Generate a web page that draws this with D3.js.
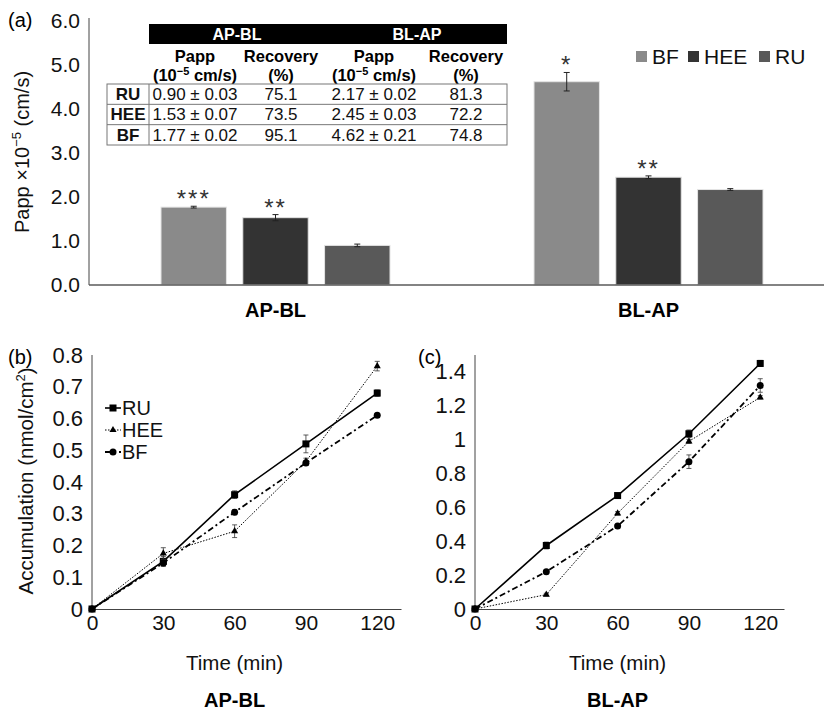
<!DOCTYPE html>
<html>
<head>
<meta charset="utf-8">
<script src="https://cdn.jsdelivr.net/npm/d3@7"></script>
<style>
  body { margin: 0; background: #fff; }
  svg { font-family: "Liberation Sans", Arial, sans-serif; }
</style>
</head>
<body>
<div id="chart"></div>
<script>
// Panel (a) data: Papp bars
const directions = ["AP-BL", "BL-AP"];
const groups = ["BF", "HEE", "RU"];
const pappMean = { "AP-BL": [1.77, 1.53, 0.90], "BL-AP": [4.62, 2.45, 2.17] };
const pappErr  = { "AP-BL": [0.02, 0.07, 0.03], "BL-AP": [0.21, 0.03, 0.02] };
const pappStars = { "AP-BL": ["***", "**", ""], "BL-AP": ["*", "**", ""] };
const barColors = ["#8a8a8a", "#333333", "#595959"];
const pappTicks = [0, 1, 2, 3, 4, 5, 6];

// Inset table
const tableRows = ["RU", "HEE", "BF"];
const tableApBlPapp = ["0.90 ± 0.03", "1.53 ± 0.07", "1.77 ± 0.02"];
const tableApBlRec  = ["75.1", "73.5", "95.1"];
const tableBlApPapp = ["2.17 ± 0.02", "2.45 ± 0.03", "4.62 ± 0.21"];
const tableBlApRec  = ["81.3", "72.2", "74.8"];

// Panels (b) and (c): accumulation over time
const times = [0, 30, 60, 90, 120];
const series = ["RU", "HEE", "BF"];
const accApBl = {
  RU:  [0, 0.150, 0.360, 0.520, 0.680],
  HEE: [0, 0.175, 0.245, 0.465, 0.765],
  BF:  [0, 0.145, 0.305, 0.460, 0.610]
};
const errApBl = {
  RU:  [0, 0.015, 0.012, 0.028, 0.010],
  HEE: [0, 0.018, 0.020, 0.010, 0.015],
  BF:  [0, 0.010, 0.008, 0.008, 0.006]
};
const accBlAp = {
  RU:  [0, 0.375, 0.670, 1.035, 1.450],
  HEE: [0, 0.085, 0.565, 0.990, 1.250],
  BF:  [0, 0.220, 0.490, 0.870, 1.320]
};
const errBlAp = {
  RU:  [0, 0.020, 0.012, 0.022, 0.018],
  HEE: [0, 0.008, 0.010, 0.012, 0.010],
  BF:  [0, 0.010, 0.010, 0.040, 0.040]
};
const ticksApBl = [0, 0.1, 0.2, 0.3, 0.4, 0.5, 0.6, 0.7, 0.8];
const ticksBlAp = [0, 0.2, 0.4, 0.6, 0.8, 1, 1.2, 1.4];

const svg = d3.select("#chart")
  .append("svg")
    .attr("width", 824)
    .attr("height", 713);

// ---------- Panel (a) ----------
const yA = d3.scaleLinear().domain([0, 6]).range([285, 21]);
const xA = d3.scaleBand().domain(directions).range([89, 835]);
const xInner = d3.scaleBand().domain(groups).range([0, 229]).paddingInner(0.2);

svg.append("text").attr("x", 8).attr("y", 27).attr("font-size", 20).text("(a)");

// Y axis
const yAxisA = svg.append("g")
  .attr("transform", "translate(89,0)")
  .call(d3.axisLeft(yA).tickValues(pappTicks).tickFormat(d3.format(".1f")).tickSize(0).tickPadding(9));
yAxisA.select(".domain").attr("stroke", "#444").attr("d", "M0,285V18");
yAxisA.selectAll("text").attr("font-size", 21).attr("fill", "#111").attr("font-family", null);

svg.append("text")
  .attr("transform", "translate(29,152) rotate(-90)")
  .attr("text-anchor", "middle")
  .attr("font-size", 20)
  .attr("fill", "#111")
  .text("Papp ×10")
  .append("tspan").attr("font-size", 13).attr("dy", -8).text("−5")
  .select(function() { return this.parentNode; })
  .append("tspan").attr("dy", 8).text(" (cm/s)");

// Bars
const grp = svg.selectAll(".dir")
  .data(directions)
  .enter()
  .append("g")
    .attr("class", "dir")
    .attr("transform", d => "translate(" + (xA(d) + (xA.bandwidth() - 229) / 2) + ",0)");

grp.selectAll("rect")
  .data(d => groups.map((g, i) => ({ dir: d, g: g, i: i, v: pappMean[d][i], e: pappErr[d][i], s: pappStars[d][i] })))
  .enter()
  .append("rect")
    .attr("x", d => xInner(d.g))
    .attr("y", d => yA(d.v))
    .attr("width", xInner.bandwidth())
    .attr("height", d => yA(0) - yA(d.v))
    .attr("fill", d => barColors[d.i])
    .attr("stroke", "#e4e4e4")
    .attr("stroke-width", 1);

// Error bars
const errA = grp.selectAll(".err")
  .data(d => groups.map((g, i) => ({ g: g, v: pappMean[d][i], e: pappErr[d][i], s: pappStars[d][i] })))
  .enter()
  .append("g")
    .attr("class", "err")
    .attr("transform", d => "translate(" + (xInner(d.g) + xInner.bandwidth() / 2) + ",0)");
errA.append("line").attr("y1", d => yA(d.v - d.e)).attr("y2", d => yA(d.v + d.e)).attr("stroke", "#222").attr("stroke-width", 1);
errA.append("line").attr("x1", -3).attr("x2", 3).attr("y1", d => yA(d.v + d.e)).attr("y2", d => yA(d.v + d.e)).attr("stroke", "#222");
errA.append("line").attr("x1", -3).attr("x2", 3).attr("y1", d => yA(d.v - d.e)).attr("y2", d => yA(d.v - d.e)).attr("stroke", "#222");
errA.append("text")
  .attr("y", d => yA(d.v + d.e) + 1)
  .attr("text-anchor", "middle")
  .attr("font-size", 24)
  .attr("letter-spacing", 2)
  .attr("fill", "#333")
  .text(d => d.s);

// X axis line and category labels
svg.append("line").attr("x1", 89).attr("x2", 824).attr("y1", yA(0)).attr("y2", yA(0)).attr("stroke", "#5a5a5a").attr("stroke-width", 1.5);
svg.selectAll(".catlab")
  .data(directions)
  .enter()
  .append("text")
    .attr("class", "catlab")
    .attr("x", d => xA(d) + xA.bandwidth() / 2)
    .attr("y", 317)
    .attr("text-anchor", "middle")
    .attr("font-size", 20)
    .attr("font-weight", "bold")
    .text(d => d);

// Legend (a)
const legA = svg.append("g").attr("transform", "translate(636,0)");
const legX = [0, 52, 123];
groups.forEach((g, i) => {
  legA.append("rect").attr("x", legX[i]).attr("y", 51).attr("width", 11).attr("height", 11).attr("fill", barColors[i]);
  legA.append("text").attr("x", legX[i] + 16).attr("y", 64).attr("font-size", 21).attr("fill", "#111").text(g);
});

// Inset table
const tbl = svg.append("g");
const colMid = [128, 195, 281, 374, 466];
tbl.append("rect").attr("x", 149).attr("y", 24).attr("width", 358).attr("height", 20).attr("fill", "#000");
tbl.append("text").attr("x", 237).attr("y", 40).attr("text-anchor", "middle").attr("fill", "#fff").attr("font-weight", "bold").attr("font-size", 16).text("AP-BL");
tbl.append("text").attr("x", 417).attr("y", 40).attr("text-anchor", "middle").attr("fill", "#fff").attr("font-weight", "bold").attr("font-size", 16).text("BL-AP");

[1, 3].forEach(c => {
  tbl.append("text").attr("x", colMid[c]).attr("y", 62).attr("text-anchor", "middle").attr("font-weight", "bold").attr("font-size", 16.5).text("Papp");
  const t = tbl.append("text").attr("x", colMid[c]).attr("y", 81).attr("text-anchor", "middle").attr("font-weight", "bold").attr("font-size", 16.5);
  t.append("tspan").text("(10");
  t.append("tspan").attr("font-size", 11).attr("dy", -6).text("−5");
  t.append("tspan").attr("dy", 6).text(" cm/s)");
  tbl.append("text").attr("x", colMid[c + 1]).attr("y", 62).attr("text-anchor", "middle").attr("font-weight", "bold").attr("font-size", 16.5).text("Recovery");
  tbl.append("text").attr("x", colMid[c + 1]).attr("y", 81).attr("text-anchor", "middle").attr("font-weight", "bold").attr("font-size", 16.5).text("(%)");
});

const rowY = d3.scaleBand().domain(tableRows).range([84, 145]);
tbl.append("rect").attr("x", 107).attr("y", 84).attr("width", 400).attr("height", 61).attr("fill", "none").attr("stroke", "#777");
tbl.append("line").attr("x1", 149).attr("x2", 149).attr("y1", 84).attr("y2", 145).attr("stroke", "#777");
tableRows.slice(1).forEach(r => {
  tbl.append("line").attr("x1", 107).attr("x2", 507).attr("y1", rowY(r)).attr("y2", rowY(r)).attr("stroke", "#777");
});
tableRows.forEach((r, i) => {
  const cells = [r, tableApBlPapp[i], tableApBlRec[i], tableBlApPapp[i], tableBlApRec[i]];
  cells.forEach((c, j) => {
    tbl.append("text")
      .attr("x", colMid[j])
      .attr("y", rowY(r) + 16)
      .attr("text-anchor", "middle")
      .attr("font-size", 17)
      .attr("font-weight", j === 0 ? "bold" : "normal")
      .attr("fill", "#111")
      .text(c);
  });
});

// ---------- Panels (b) and (c) ----------
const lineStyle = {
  RU:  { dash: null, width: 1.6 },
  HEE: { dash: "1.5,1.5", width: 1 },
  BF:  { dash: "6,3,2,3", width: 1.8 }
};

function drawMarker(g, s, x, y) {
  if (s === "RU") {
    g.append("rect").attr("x", x - 3.5).attr("y", y - 3.5).attr("width", 7).attr("height", 7).attr("fill", "#000");
  } else if (s === "HEE") {
    g.append("path").attr("d", d3.symbol(d3.symbolTriangle, 22)()).attr("transform", "translate(" + x + "," + y + ")").attr("fill", "#000");
  } else {
    g.append("circle").attr("cx", x).attr("cy", y).attr("r", 3.5).attr("fill", "#000");
  }
}

function drawAccumulation(opt) {
  const x = d3.scaleLinear().domain([0, 130]).range([opt.left, opt.left + 309]);
  const y = d3.scaleLinear().domain([0, opt.yMax]).range([609, 355]);
  const g = svg.append("g");

  g.append("text").attr("x", opt.tagX).attr("y", 364).attr("font-size", 20).text(opt.tag);

  // Axes
  const yAx = g.append("g")
    .attr("transform", "translate(" + opt.left + ",0)")
    .call(d3.axisLeft(y).tickValues(opt.ticks).tickFormat(d3.format("")).tickSize(0).tickPadding(9));
  yAx.select(".domain").attr("stroke", "#444").attr("d", "M0,609V355");
  yAx.selectAll("text").attr("font-size", 22).attr("fill", "#111").attr("font-family", null);

  const xAx = g.append("g")
    .attr("transform", "translate(0,609)")
    .call(d3.axisBottom(x).tickValues(times).tickSize(0).tickPadding(6));
  xAx.select(".domain").attr("stroke", "#444");
  xAx.selectAll("text").attr("font-size", 21).attr("fill", "#111").attr("font-family", null);

  g.append("text").attr("x", x(60)).attr("y", 670).attr("text-anchor", "middle").attr("font-size", 20.5).attr("fill", "#111").text("Time (min)");
  g.append("text").attr("x", x(60)).attr("y", 707).attr("text-anchor", "middle").attr("font-size", 20).attr("font-weight", "bold").text(opt.title);

  const line = d3.line().x((d, i) => x(times[i])).y(d => y(d));

  series.forEach(s => {
    g.append("path")
      .datum(opt.data[s])
      .attr("d", line)
      .attr("fill", "none")
      .attr("stroke", "#000")
      .attr("stroke-width", lineStyle[s].width)
      .attr("stroke-dasharray", lineStyle[s].dash);
    opt.data[s].forEach((v, i) => {
      const e = opt.err[s][i];
      if (e > 0) {
        const cx = x(times[i]);
        g.append("line").attr("x1", cx).attr("x2", cx).attr("y1", y(v - e)).attr("y2", y(v + e)).attr("stroke", "#333").attr("stroke-width", 0.8);
        g.append("line").attr("x1", cx - 2.5).attr("x2", cx + 2.5).attr("y1", y(v + e)).attr("y2", y(v + e)).attr("stroke", "#333").attr("stroke-width", 0.8);
        g.append("line").attr("x1", cx - 2.5).attr("x2", cx + 2.5).attr("y1", y(v - e)).attr("y2", y(v - e)).attr("stroke", "#333").attr("stroke-width", 0.8);
      }
      drawMarker(g, s, x(times[i]), y(v));
    });
  });

  if (opt.yLabel) {
    const t = g.append("text")
      .attr("transform", "translate(33,481) rotate(-90)")
      .attr("text-anchor", "middle")
      .attr("font-size", 20.5)
      .attr("fill", "#111");
    t.append("tspan").text("Accumulation (nmol/cm");
    t.append("tspan").attr("font-size", 13).attr("dy", -8).text("2");
    t.append("tspan").attr("dy", 8).text(")");
  }

  if (opt.legend) {
    series.forEach((s, i) => {
      const ly = 408 + i * 22;
      g.append("line").attr("x1", 105).attr("x2", 121).attr("y1", ly).attr("y2", ly)
        .attr("stroke", "#000").attr("stroke-width", lineStyle[s].width).attr("stroke-dasharray", lineStyle[s].dash);
      drawMarker(g, s, 113, ly);
      g.append("text").attr("x", 122).attr("y", ly + 7).attr("font-size", 20).attr("fill", "#111").text(s);
    });
  }
}

drawAccumulation({ left: 92, yMax: 0.8, ticks: ticksApBl, data: accApBl, err: errApBl, tag: "(b)", tagX: 8, title: "AP-BL", yLabel: true, legend: true });
drawAccumulation({ left: 475, yMax: 1.5, ticks: ticksBlAp, data: accBlAp, err: errBlAp, tag: "(c)", tagX: 418, title: "BL-AP", yLabel: false, legend: false });
</script>
</body>
</html>
